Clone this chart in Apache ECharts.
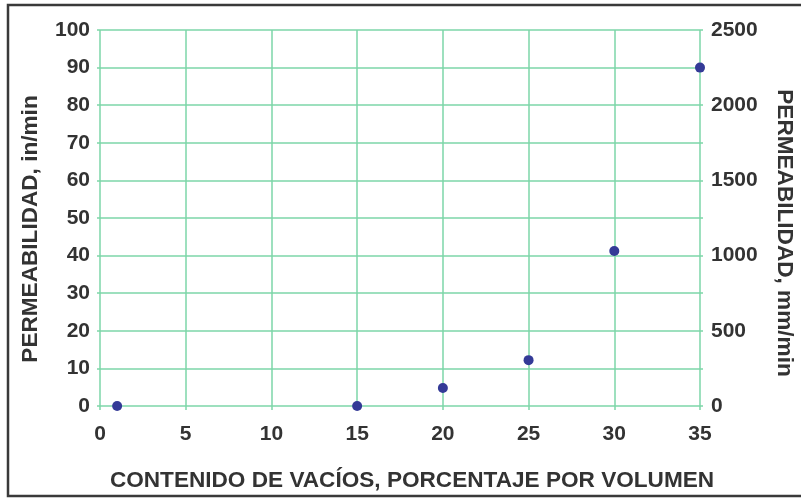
<!DOCTYPE html>
<html><head><meta charset="utf-8">
<script src="https://cdn.jsdelivr.net/npm/echarts@6/dist/echarts.min.js"></script>
<style>html,body{margin:0;padding:0;background:#fff}#c{width:801px;height:498px}</style>
</head><body><div id="c"></div>
<script>
const voids = [1, 15, 20, 25, 30, 35];
const permInMin = [0, 0, 4.8, 12.2, 41.2, 90];
const xTitle = 'CONTENIDO DE VACÍOS, PORCENTAJE POR VOLUMEN';
const leftTitle = 'PERMEABILIDAD, in/min';
const rightTitle = 'PERMEABILIDAD, mm/min';

const gridColor = '#7dd6a8';
const txt = '#333333';
const tickFont = {fontFamily: 'Liberation Sans, Arial, sans-serif', fontWeight: 'bold', fontSize: 21, color: txt};
const titleFont = {fontFamily: 'Liberation Sans, Arial, sans-serif', fontWeight: 'bold', fontSize: 22.6, color: txt};

const chart = echarts.init(document.getElementById('c'));
chart.setOption({
  animation: false,
  grid: {left: 100, right: 101, top: 30, bottom: 92, outerBoundsMode: 'none', containLabel: false},
  xAxis: {
    type: 'value', min: 0, max: 35, interval: 5,
    name: xTitle, nameLocation: 'middle', nameGap: 63,
    nameTextStyle: Object.assign({padding: [0, 0, 0, 24]}, titleFont),
    axisLine: {show: false},
    axisTick: {show: true, length: 4, lineStyle: {color: gridColor, width: 1.5}},
    axisLabel: Object.assign({margin: 18}, tickFont),
    splitLine: {show: true, lineStyle: {color: gridColor, width: 1.5}}
  },
  yAxis: [
    {
      type: 'value', min: 0, max: 100, interval: 10, position: 'left',
      name: leftTitle, nameLocation: 'middle', nameGap: 58, nameRotate: 90,
      nameTextStyle: Object.assign({padding: [0, 22, 0, 0]}, titleFont),
      axisLine: {show: false},
      axisTick: {show: true, length: 3, lineStyle: {color: gridColor, width: 1.5}},
      axisLabel: Object.assign({margin: 10}, tickFont),
      splitLine: {show: true, lineStyle: {color: gridColor, width: 1.5}}
    },
    {
      type: 'value', min: 0, max: 2500, interval: 500, position: 'right',
      name: rightTitle, nameLocation: 'middle', nameGap: 73, nameRotate: -90,
      nameTextStyle: Object.assign({padding: [0, 0, 0, 30]}, titleFont),
      axisLine: {show: false},
      axisTick: {show: false},
      axisLabel: Object.assign({margin: 11, formatter: v => String(v)}, tickFont),
      splitLine: {show: false}
    },
    {
      type: 'value', min: 0, max: 100, interval: 10, position: 'right',
      axisLine: {show: false},
      axisTick: {show: true, length: 3, lineStyle: {color: gridColor, width: 1.5}},
      axisLabel: {show: false},
      splitLine: {show: false}
    }
  ],
  series: [{
    type: 'scatter', yAxisIndex: 0,
    data: voids.map((v, i) => [v, permInMin[i]]),
    symbolSize: 10,
    itemStyle: {color: '#343a97', opacity: 1}
  }],
  graphic: [{
    type: 'polyline', shape: {points: [[801, 5], [8, 5], [8, 496], [801, 496]]},
    style: {fill: 'none', stroke: '#3a3a3a', lineWidth: 2.5}, z: 100
  }]
});
</script></body></html>
